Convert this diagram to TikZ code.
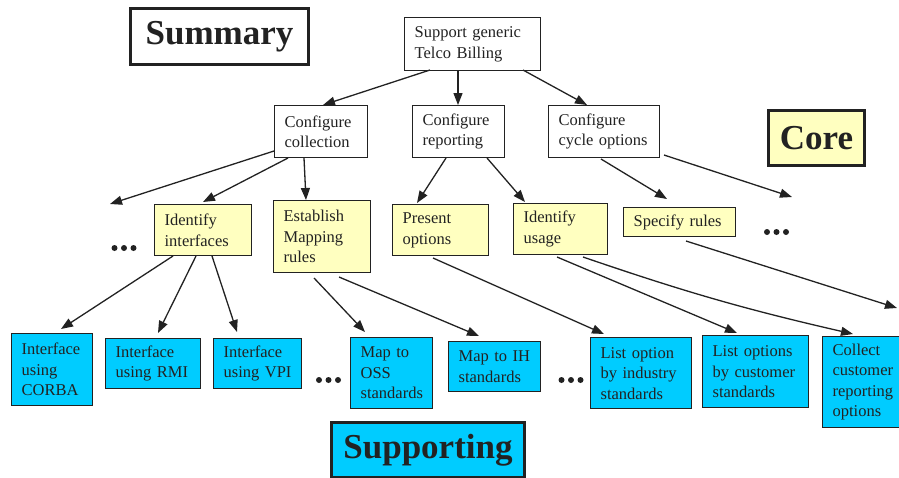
\documentclass[tikz,border=0pt]{standalone}
\usepackage{fontspec}
\setmainfont{Liberation Serif}
\usetikzlibrary{arrows.meta}
\hyphenpenalty=10000
\definecolor{noteyellow}{HTML}{FFFFC0}
\definecolor{leafcyan}{HTML}{00CCFF}
\definecolor{ink}{HTML}{222222}
\begin{document}
\begin{tikzpicture}[x=1pt,y=-1pt,
  box/.style={draw=ink, line width=1.3pt, rectangle, anchor=north west,
    inner xsep=10pt, inner ysep=0pt, align=left, text=ink,
    font=\fontsize{16.5}{20.5}\selectfont},
  wh/.style n args={3}{minimum width=#1pt, minimum height=#2pt, text width=#3pt},
  goal/.style={box, fill=white},
  task/.style={box, fill=noteyellow},
  leaf/.style={box, fill=leafcyan},
  banner/.style={draw=ink, line width=3pt, anchor=north west, inner sep=0pt,
    text=ink, font=\fontsize{35}{40}\selectfont\bfseries},
  link/.style={draw=ink, line width=1.3pt, -{Triangle[length=12pt,width=9pt]}},
]
\useasboundingbox (0,0) rectangle (899,477);

% level banners
\node[banner, fill=white, minimum width=178pt, minimum height=56pt] (summary) at (129,7) {Summary};
\node[banner, fill=noteyellow, minimum width=96pt, minimum height=55pt] (core) at (767,109) {Core};
\node[banner, fill=leafcyan, minimum width=193pt, minimum height=55pt] (supporting) at (330,421) {Supporting};

% goal tree
\node[goal, wh={136}{53}{116}] (top) at (404,17) {Support~generic\\Telco~Billing};
\node[goal, wh={93}{52}{73}] (col) at (274,105) {Configure\\collection};
\node[goal, wh={92}{52}{72}] (rep) at (412,105) {Configure\\reporting};
\node[goal, wh={111}{52}{91}] (cyc) at (548,105) {Configure\\cycle~options};

\node[task, wh={97}{51}{77}] (ii) at (154,204) {Identify\\interfaces};
\node[task, wh={97}{72}{77}] (est) at (273,200) {Establish\\Mapping\\rules};
\node[task, wh={96}{51}{76}] (pres) at (392,204) {Present\\options};
\node[task, wh={94}{51}{74}] (use) at (513,203) {Identify\\usage};
\node[task, wh={112}{29}{92}] (spec) at (623,207) {Specify~rules};

\node[leaf, wh={81}{72}{61}] (corba) at (11,333) {Interface\\using\\CORBA};
\node[leaf, wh={95}{50}{75}] (rmi) at (105,338) {Interface\\using~RMI};
\node[leaf, wh={88}{50}{68}] (vpi) at (213,338) {Interface\\using~VPI};
\node[leaf, wh={82}{71}{62}] (oss) at (350,337) {Map~to\\OSS\\standards};
\node[leaf, wh={92}{50}{72}] (ih) at (448,341) {Map~to~IH\\standards};
\node[leaf, wh={101}{71}{81}] (ind) at (590,337) {List~option\\by~industry\\standards};
\node[leaf, wh={106}{72}{86}] (cust) at (702,335) {List~options\\by~customer\\standards};
\node[leaf, wh={78}{91}{58}] (coll) at (822,336) {Collect\\customer\\reporting\\options};

% ellipses for omitted branches
\foreach \cx/\cy in {124/248, 776.5/232, 328.5/380, 571/380}
  \foreach \d in {-9.5,0,9.5}
    \fill[ink] (\cx+\d,\cy) circle (3pt);

% open ends of connectors leading to omitted branches
\coordinate (moreCol) at (110,204);
\coordinate (moreCyc) at (792,197);
\coordinate (moreSpec) at (897,308);

% connectors
\draw[link] ([shift={(26,53)}]top.north west) -- ([shift={(49,0)}]col.north west);
\draw[link] ([shift={(54,53)}]top.north west) -- ([shift={(46,0)}]rep.north west);
\draw[link] ([shift={(119,53)}]top.north west) -- ([shift={(39,0)}]cyc.north west);

\draw[link] ([shift={(0,46)}]col.north west) -- (moreCol);
\draw[link] ([shift={(14,53)}]col.north west) -- ([shift={(49,-2)}]ii.north west);
\draw[link] ([shift={(30,53)}]col.north west) -- ([shift={(33,0)}]est.north west);
\draw[link] ([shift={(34,53)}]rep.north west) -- ([shift={(25,-1)}]pres.north west);
\draw[link] ([shift={(75,53)}]rep.north west) -- ([shift={(12,-1)}]use.north west);
\draw[link] ([shift={(53,54)}]cyc.north west) -- ([shift={(44,-8)}]spec.north west);
\draw[link] ([shift={(116,50)}]cyc.north west) -- (moreCyc);

\draw[link] ([shift={(19,52)}]ii.north west) -- ([shift={(50,-4)}]corba.north west);
\draw[link] ([shift={(42,52)}]ii.north west) -- ([shift={(53,-5)}]rmi.north west);
\draw[link] ([shift={(58,52)}]ii.north west) -- ([shift={(24,-6)}]vpi.north west);
\draw[link] ([shift={(41,78)}]est.north west) -- ([shift={(15,-5)}]oss.north west);
\draw[link] ([shift={(66,77)}]est.north west) -- ([shift={(31,-5)}]ih.north west);
\draw[link] ([shift={(41,54)}]pres.north west) -- ([shift={(14,-3)}]ind.north west);
\draw[link] ([shift={(44,54)}]use.north west) -- ([shift={(35,-2)}]cust.north west);
\draw[link] ([shift={(70,54)}]use.north west) to[bend right=3] ([shift={(31,-2)}]coll.north west);
\draw[link] ([shift={(63,34)}]spec.north west) -- (moreSpec);
\end{tikzpicture}
\end{document}
